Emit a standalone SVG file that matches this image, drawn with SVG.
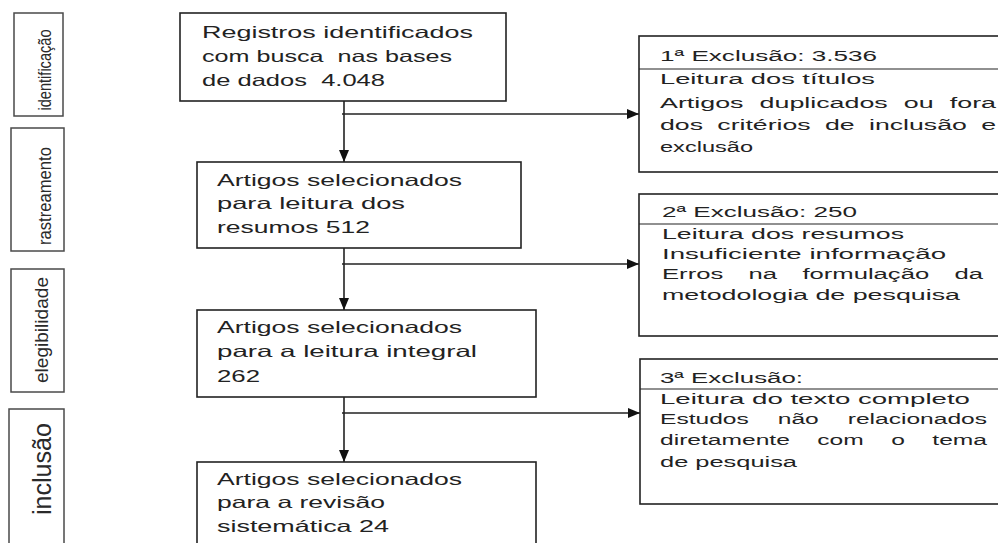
<svg xmlns="http://www.w3.org/2000/svg" width="998" height="543" viewBox="0 0 998 543">
<style>
  .box { fill: #ffffff; stroke: #222222; stroke-width: 1.6; }
  .lbl { fill: #ffffff; stroke: #4a4a4a; stroke-width: 1.5; }
  .t { font-family: "Liberation Sans", "Open Sans", sans-serif; font-size: 16.5px; fill: #222222; }
  .r { font-family: "Liberation Sans", "Open Sans", sans-serif; font-size: 15.5px; fill: #222222; }
  .s { font-family: "Liberation Sans Narrow", "Liberation Sans", sans-serif; font-size: 19px; fill: #2a2a2a; text-anchor: middle; }
  .c { stroke: #222222; stroke-width: 1.6; fill: none; }
</style>
<defs>
  <marker id="ah" markerUnits="userSpaceOnUse" markerWidth="12" markerHeight="10" refX="12" refY="5" orient="auto">
    <path d="M0,0 L12,5 L0,10 Z" fill="#111111"/>
  </marker>
</defs>
<rect width="998" height="543" fill="#ffffff"/>

<g id="label-identificacao">
  <rect class="lbl" x="14" y="13" width="49" height="103"/>
  <text class="s" transform="translate(51,70) rotate(-90)" textLength="81" lengthAdjust="spacingAndGlyphs">identificação</text>
</g>
<g id="label-rastreamento">
  <rect class="lbl" x="11" y="128" width="53" height="123"/>
  <text class="s" transform="translate(51,196) rotate(-90)" textLength="98" lengthAdjust="spacingAndGlyphs">rastreamento</text>
</g>
<g id="label-elegibilidade">
  <rect class="lbl" x="11" y="269" width="53" height="123"/>
  <text class="s" transform="translate(48,330) rotate(-90)" textLength="106" lengthAdjust="spacingAndGlyphs">elegibilidade</text>
</g>
<g id="label-inclusao">
  <rect class="lbl" x="9" y="409" width="55" height="150"/>
  <text class="s" style="font-size:25px" transform="translate(51,469) rotate(-90)" textLength="92" lengthAdjust="spacingAndGlyphs">inclusão</text>
</g>

<g id="connectors">
  <line class="c" x1="344" y1="101" x2="344" y2="162" marker-end="url(#ah)"/>
  <line class="c" x1="342" y1="114" x2="639" y2="114" marker-end="url(#ah)"/>
  <line class="c" x1="344" y1="248" x2="344" y2="310" marker-end="url(#ah)"/>
  <line class="c" x1="342" y1="264" x2="639" y2="264" marker-end="url(#ah)"/>
  <line class="c" x1="344" y1="397" x2="344" y2="462" marker-end="url(#ah)"/>
  <line class="c" x1="342" y1="413" x2="640" y2="413" marker-end="url(#ah)"/>
</g>

<g id="box-registros">
  <rect class="box" x="180" y="13" width="326" height="88"/>
  <text class="t" x="202" y="38" textLength="271" lengthAdjust="spacingAndGlyphs">Registros identificados</text>
  <text class="t" x="202" y="62" textLength="250" lengthAdjust="spacingAndGlyphs" xml:space="preserve">com busca  nas bases</text>
  <text class="t" x="202" y="86" textLength="183" lengthAdjust="spacingAndGlyphs" xml:space="preserve">de dados  4.048</text>
</g>
<g id="box-resumos">
  <rect class="box" x="197" y="162" width="324" height="86"/>
  <text class="t" x="217" y="186" textLength="245" lengthAdjust="spacingAndGlyphs">Artigos selecionados</text>
  <text class="t" x="217" y="209" textLength="188" lengthAdjust="spacingAndGlyphs">para leitura dos</text>
  <text class="t" x="217" y="233" textLength="153" lengthAdjust="spacingAndGlyphs">resumos 512</text>
</g>
<g id="box-integral">
  <rect class="box" x="197" y="310" width="339" height="87"/>
  <text class="t" x="217" y="333" textLength="245" lengthAdjust="spacingAndGlyphs">Artigos selecionados</text>
  <text class="t" x="217" y="357" textLength="260" lengthAdjust="spacingAndGlyphs">para a leitura integral</text>
  <text class="t" x="217" y="382" textLength="43" lengthAdjust="spacingAndGlyphs">262</text>
</g>
<g id="box-revisao">
  <rect class="box" x="197" y="462" width="339" height="110"/>
  <text class="t" x="217" y="485" textLength="245" lengthAdjust="spacingAndGlyphs">Artigos selecionados</text>
  <text class="t" x="217" y="508" textLength="168" lengthAdjust="spacingAndGlyphs">para a revisão</text>
  <text class="t" x="217" y="532" textLength="172" lengthAdjust="spacingAndGlyphs">sistemática 24</text>
</g>

<g id="box-exclusao1">
  <rect class="box" x="639" y="36" width="400" height="136"/>
  <line class="c" x1="639" y1="69" x2="1000" y2="69" style="stroke-width:1.2"/>
  <text class="r" x="660" y="61" textLength="217" lengthAdjust="spacingAndGlyphs">1ª Exclusão: 3.536</text>
  <text class="r" x="660" y="84" textLength="215" lengthAdjust="spacingAndGlyphs">Leitura dos títulos</text>
  <text class="r" x="660" y="108" textLength="336" lengthAdjust="spacingAndGlyphs" style="word-spacing:5px">Artigos duplicados ou fora</text>
  <text class="r" x="660" y="130" textLength="336" lengthAdjust="spacingAndGlyphs" style="word-spacing:4px">dos critérios de inclusão e</text>
  <text class="r" x="660" y="152" textLength="93" lengthAdjust="spacingAndGlyphs">exclusão</text>
</g>
<g id="box-exclusao2">
  <rect class="box" x="639" y="194" width="400" height="142"/>
  <line class="c" x1="639" y1="224" x2="1000" y2="224" style="stroke-width:1.2"/>
  <text class="r" x="662" y="217" textLength="195" lengthAdjust="spacingAndGlyphs">2ª Exclusão: 250</text>
  <text class="r" x="662" y="239" textLength="242" lengthAdjust="spacingAndGlyphs">Leitura dos resumos</text>
  <text class="r" x="662" y="259" textLength="284" lengthAdjust="spacingAndGlyphs">Insuficiente informação</text>
  <text class="r" x="662" y="279" textLength="321" lengthAdjust="spacingAndGlyphs" style="word-spacing:11px">Erros na formulação da</text>
  <text class="r" x="662" y="300" textLength="298" lengthAdjust="spacingAndGlyphs">metodologia de pesquisa</text>
</g>
<g id="box-exclusao3">
  <rect class="box" x="640" y="359" width="400" height="145"/>
  <line class="c" x1="640" y1="389" x2="1000" y2="389" style="stroke-width:1.2"/>
  <text class="r" x="660" y="383" textLength="143" lengthAdjust="spacingAndGlyphs">3ª Exclusão:</text>
  <text class="r" x="660" y="404" textLength="310" lengthAdjust="spacingAndGlyphs">Leitura do texto completo</text>
  <text class="r" x="660" y="424" textLength="327" lengthAdjust="spacingAndGlyphs" style="word-spacing:14px">Estudos não relacionados</text>
  <text class="r" x="660" y="445" textLength="327" lengthAdjust="spacingAndGlyphs" style="word-spacing:13px">diretamente com o tema</text>
  <text class="r" x="660" y="467" textLength="137" lengthAdjust="spacingAndGlyphs">de pesquisa</text>
</g>
</svg>
